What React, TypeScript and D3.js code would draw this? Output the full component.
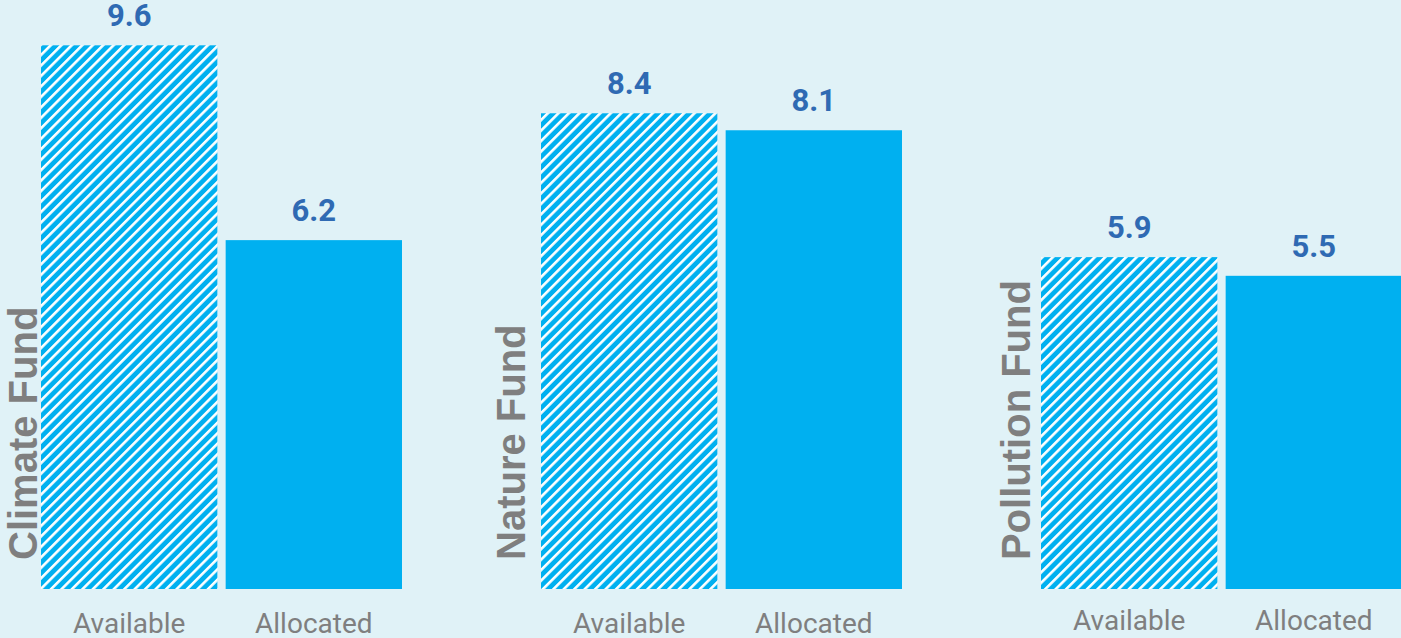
import React from "react";
import * as d3 from "d3";

// ---- data ----
const funds = ["Climate Fund", "Nature Fund", "Pollution Fund"];
const kinds = ["Available", "Allocated"];
const availableValues = [9.6, 8.4, 5.86];
const allocatedValues = [6.16, 8.1, 5.53];

// ---- layout ----
const W = 1401;
const H = 638;
const BASE_Y = 589;
const Y_MAX = 10.4;
const PANEL_LEFT = 41;
const PANEL_STEP = 500;
const INNER_WIDTH = 361;
const fundLabelX = [37, 525, 1030];
const fundLabelY = 560;
const kindLabelY = [633, 633, 630];

const BG = "#E0F2F7";
const BAR = "#00B0F0";
const VALUE_COLOR = "#2F6AB3";
const GRAY = "#7F7F7F";

export default function App() {
  const x0 = d3
    .scaleBand<string>()
    .domain(funds)
    .range([PANEL_LEFT, PANEL_LEFT + PANEL_STEP * funds.length])
    .paddingInner(0)
    .paddingOuter(0);
  const x1 = d3
    .scaleBand<string>()
    .domain(kinds)
    .range([0, INNER_WIDTH])
    .paddingInner(0.045)
    .paddingOuter(0);
  const y = d3.scaleLinear().domain([0, Y_MAX]).range([BASE_Y, 0]);
  const fmt = d3.format(".1f");

  const series: Record<string, number[]> = {
    Available: availableValues,
    Allocated: allocatedValues,
  };

  return (
    <svg
      width={W}
      height={H}
      style={{ position: "absolute", left: 0, top: 0, display: "block" }}
    >
      <defs>
        <pattern
          id="hatch"
          patternUnits="userSpaceOnUse"
          width={7.4}
          height={7.4}
          patternTransform="rotate(45)"
        >
          <rect width={7.4} height={7.4} fill={BAR} />
          <line x1={1.3} y1={0} x2={1.3} y2={7.4} stroke="#FFFFFF" strokeWidth={2.6} />
        </pattern>
      </defs>
      <rect width={W} height={H} fill={BG} />
      {funds.map((f, i) => {
        const px = x0(f)!;
        return (
          <g key={f}>
            {kinds.map((k) => {
              const v = series[k][i];
              const bx = px + x1(k)!;
              const bw = x1.bandwidth();
              return (
                <g key={k}>
                  <rect
                    x={bx}
                    y={y(v)}
                    width={bw}
                    height={BASE_Y - y(v)}
                    fill={k === "Available" ? "url(#hatch)" : BAR}
                  />
                  <text
                    x={bx + bw / 2}
                    y={y(v) - 19}
                    textAnchor="middle"
                    fontFamily="Roboto"
                    fontWeight={700}
                    fontSize={31}
                    fill={VALUE_COLOR}
                  >
                    {fmt(v)}
                  </text>
                  <text
                    x={bx + bw / 2}
                    y={kindLabelY[i]}
                    textAnchor="middle"
                    fontFamily="Roboto"
                    fontSize={28}
                    fill={GRAY}
                  >
                    {k}
                  </text>
                </g>
              );
            })}
            <text
              transform={`translate(${fundLabelX[i]},${fundLabelY}) rotate(-90)`}
              textAnchor="start"
              fontFamily="Liberation Sans"
              fontWeight={700}
              fontSize={40}
              fill={GRAY}
            >
              {f}
            </text>
          </g>
        );
      })}
    </svg>
  );
}
